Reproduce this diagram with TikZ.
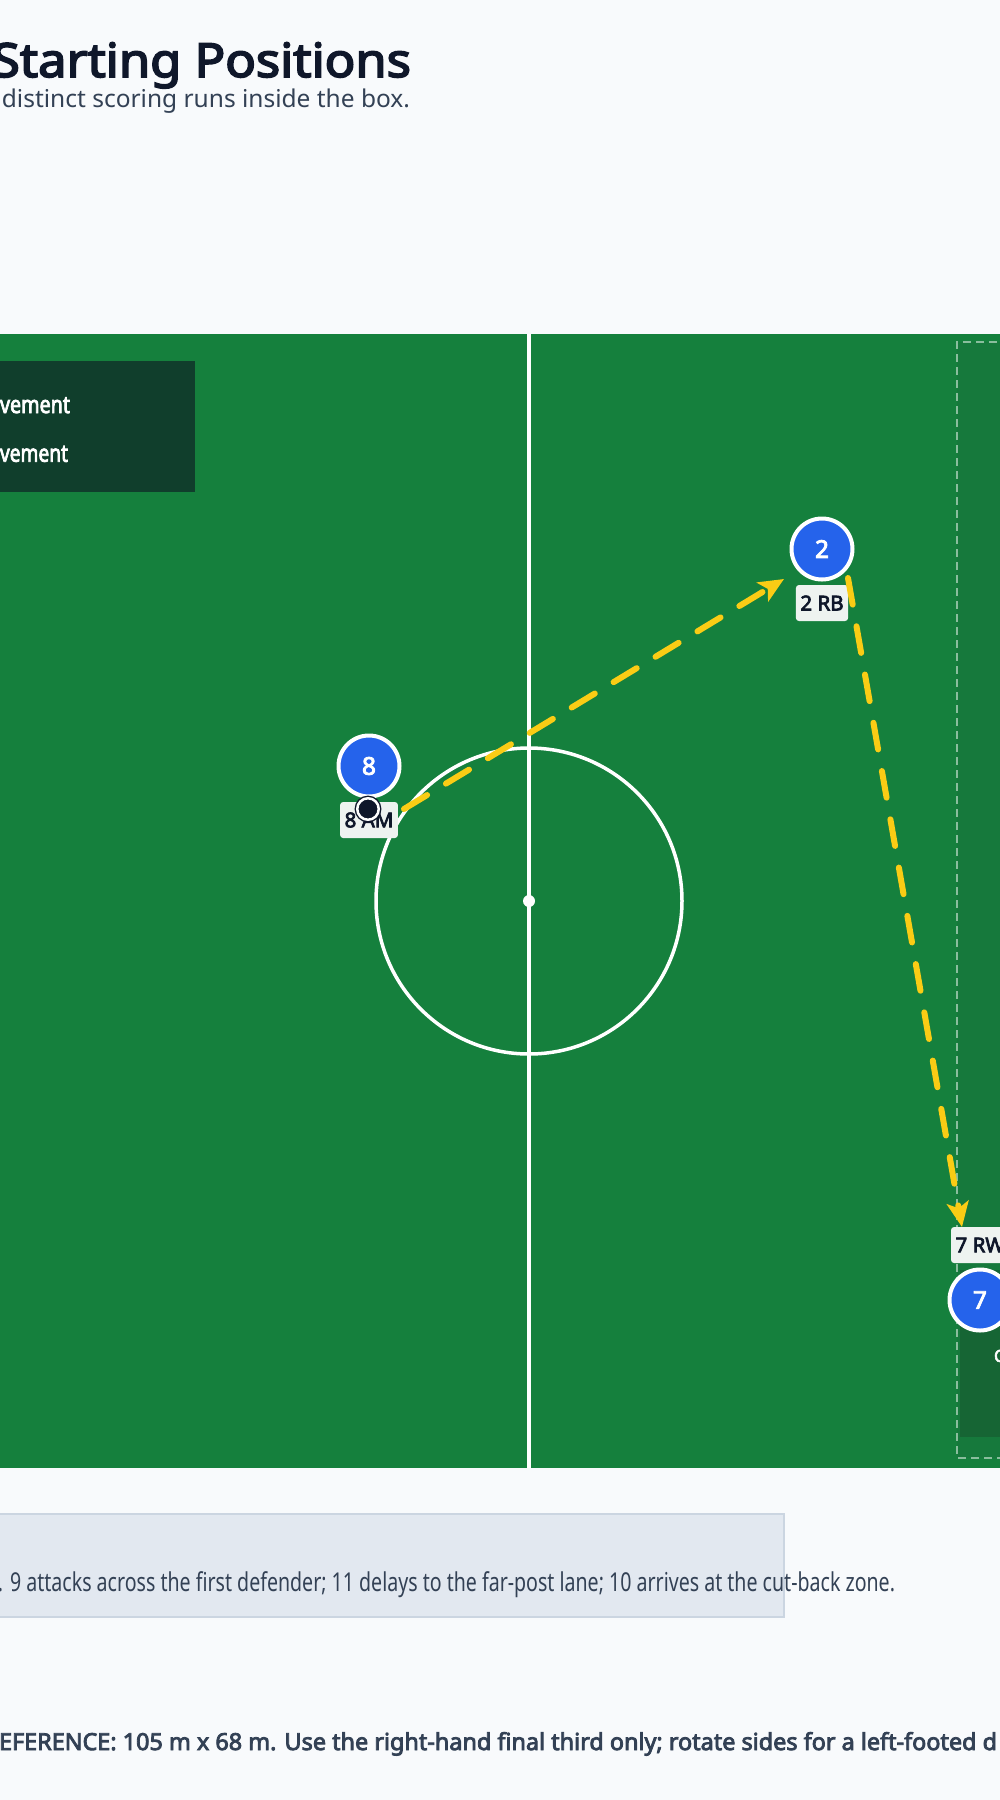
\documentclass[tikz,border=0pt]{standalone}
\usepackage{fontspec}
\usepackage{graphicx}
\setmainfont{Noto Sans}[BoldFont={Noto Sans},BoldFeatures={FakeBold=3.5}]
\usetikzlibrary{arrows.meta,positioning,calc}
\definecolor{pagebg}{HTML}{F8FAFC}
\definecolor{turf}{HTML}{15803D}
\definecolor{zonegreen}{HTML}{16793C}
\definecolor{cutgreen}{HTML}{166534}
\definecolor{keygreen}{HTML}{103E2C}
\definecolor{navy}{HTML}{0F172A}
\definecolor{slate}{HTML}{334155}
\definecolor{royal}{HTML}{2563EB}
\definecolor{tagfill}{HTML}{EEF3F0}
\definecolor{runyellow}{HTML}{FACC15}
\definecolor{notefill}{HTML}{E2E8F0}
\definecolor{noteline}{HTML}{CBD5E1}
\begin{document}
\begin{tikzpicture}[x=1pt, y=-1pt, inner sep=0pt, outer sep=0pt,
player/.style={circle,draw=white,fill=royal,line width=4pt,minimum size=61pt,text=white,font=\bfseries\fontsize{24.5}{24.5}\selectfont},
tag/.style={rectangle,rounded corners=3pt,fill=tagfill,text=navy,minimum height=36pt,inner xsep=4.5pt,font=\bfseries\fontsize{20.5}{20.5}\selectfont},
ball/.style={circle,fill=navy,draw=navy,double=white,double distance=2.5pt,line width=1.4pt,minimum size=21.5pt},
run/.style={draw=runyellow,line width=6pt,line cap=round,dash pattern=on 27pt off 22pt,-{Stealth[length=25pt,width=22pt,inset=6pt]}}]
\useasboundingbox (0,0) rectangle (1000,1800);
\fill[pagebg] (0,0) rectangle (1000,1800);
% pitch
\fill[turf] (-10,334) rectangle (1010,1468);
\fill[zonegreen] (957,342) rectangle (1010,1458);
\draw[white,opacity=.5,line width=1.5pt,dash pattern=on 8pt off 5pt] (1010,342) -- (957,342) -- (957,1458) -- (1010,1458);
\fill[cutgreen] (960,1270) rectangle (1010,1437);
\draw[white,line width=4.5pt] (529,334) -- (529,1468);
\draw[white,line width=3.5pt] (529,901) circle[radius=153];
\fill[white] (529,901) circle[radius=6];
\fill[keygreen] (-10,361) rectangle (195,492);
\draw[noteline,fill=notefill,line width=2pt] (-10,1514.3) rectangle (784,1616.7);
\begin{scope}[every node/.style={anchor=base east}]
\node[text=navy,font=\bfseries\fontsize{47}{47}\selectfont] (title) at (411,77) {\resizebox{419pt}{\height}{Starting Positions}};
\node[text=slate,font=\fontsize{24.5}{24.5}\selectfont] (subtitle) at (410,107) {distinct scoring runs inside the box.};
\node[text=white,font=\bfseries\fontsize{24}{24}\selectfont] (key1) at (70,413) {\resizebox{70pt}{\height}{vement}};
\node[text=white,font=\bfseries\fontsize{24}{24}\selectfont] (key2) at (68,461.7) {\resizebox{68pt}{\height}{vement}};
\end{scope}
\begin{scope}[every node/.style={anchor=base west}]
\node[text=slate,font=\fontsize{26}{26}\selectfont] (note) at (-2,1591) {\resizebox{897pt}{\height}{. 9 attacks across the first defender; 11 delays to the far-post lane; 10 arrives at the cut-back zone.}};
\node[text=slate,font=\bfseries\fontsize{23.4}{23.4}\selectfont] (scale) at (-1,1750) {\resizebox{998pt}{\height}{EFERENCE: 105 m x 68 m. Use the right-hand final third only; rotate sides for a left-footed d}};
\node[text=white,font=\bfseries\fontsize{17}{17}\selectfont] (cutzone) at (994,1362) {C};
\end{scope}
% players
\node[player] (p8) at (369,766) {8};
\node[player] (p2) at (822,549) {2};
\node[player] (p7) at (980,1300) {7};
\node[tag,below=5.5pt of p8] (t8) {8 AM};
\node[tag,below=5.5pt of p2] (t2) {2 RB};
\node[tag,above=6.5pt of p7] (t7) {7 RW};
\node[ball] (ball) at (368,809) {};
% runs
\coordinate (r1a) at (404,809);
\coordinate (r1b) at (784,579);
\coordinate (r2a) at (848,578);
\coordinate (r2b) at (962,1227);
\draw[run] (r1a) -- (r1b);
\draw[run] (r2a) -- (r2b);
\end{tikzpicture}
\end{document}
